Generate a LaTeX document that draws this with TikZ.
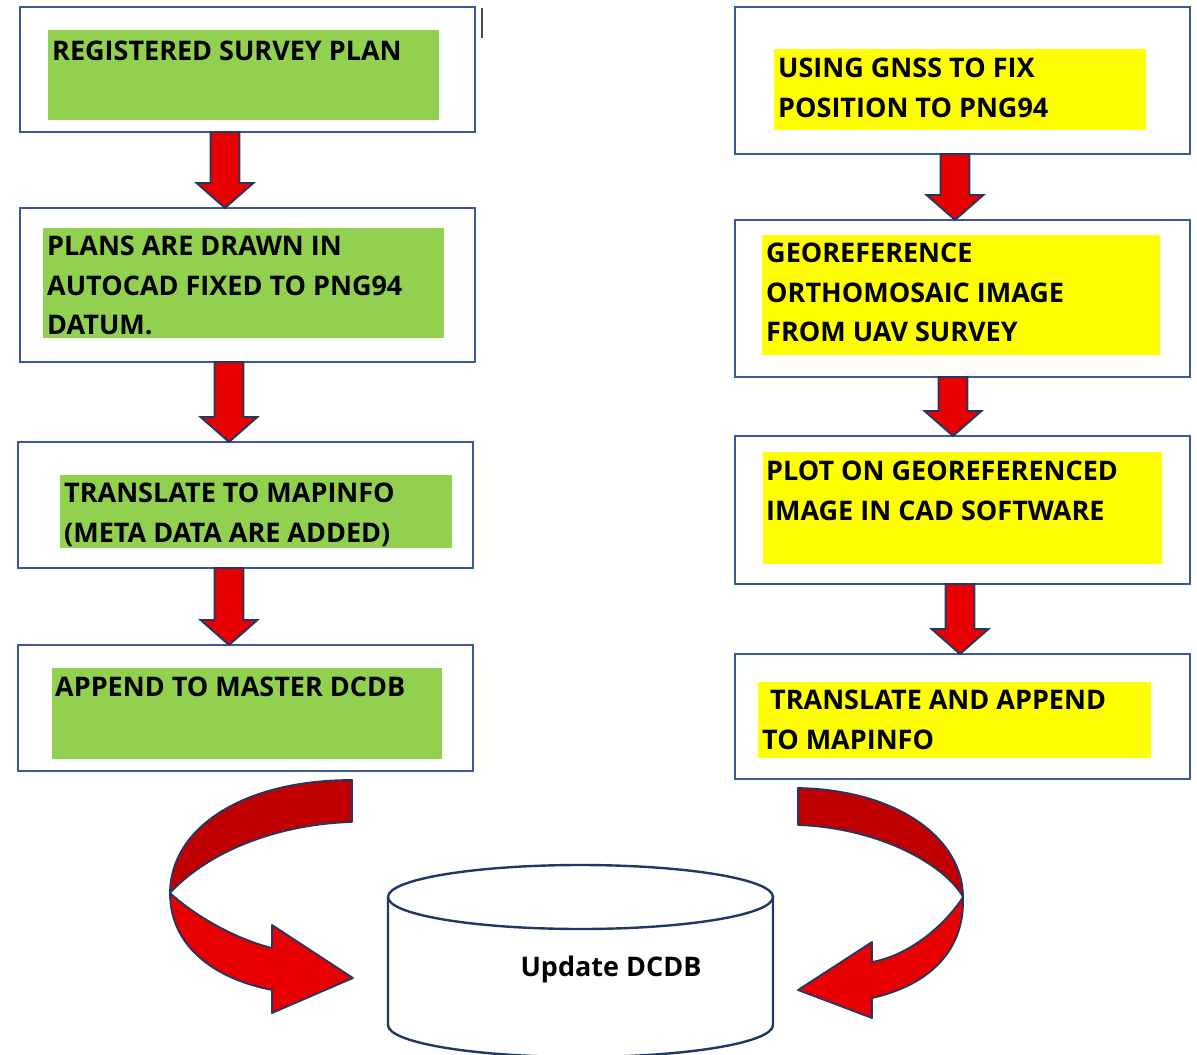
\documentclass[tikz,border=0pt]{standalone}
\usepackage{fontspec}
\setmainfont{Open Sans}
\usetikzlibrary{calc}
\definecolor{boxblue}{RGB}{59,89,152}
\definecolor{navyline}{RGB}{31,56,100}
\definecolor{planfill}{RGB}{146,208,80}
\definecolor{gnssfill}{RGB}{255,255,0}
\definecolor{arrowred}{RGB}{232,0,0}
\definecolor{arrowdark}{RGB}{192,0,0}
% fat down arrow from one box to the next
\newcommand{\blockarrow}[2]{%
    \draw [arrowbody] let \p1 = (#1), \p2 = (#2) in
        (\x1 - 14.5pt, \y1) -- (\x1 - 14.5pt, \y2 + 25pt) -- (\x1 - 28.5pt, \y2 + 25pt) -- (\x1, \y2)
        -- (\x1 + 28.5pt, \y2 + 25pt) -- (\x1 + 14.5pt, \y2 + 25pt) -- (\x1 + 14.5pt, \y1) -- cycle;}
\begin{document}
\begin{tikzpicture}[x = 1pt, y = -1pt,
        box/.style = {draw = boxblue, line width = 2.2, inner sep = 0, outer sep = 0, minimum width = 455},
        shade/.style = {inner sep = 0, outer sep = 0, anchor = north west},
        label/.style = {anchor = north west, inner sep = 0, align = left, font = \fontsize{27}{39.5}\selectfont\bfseries},
        arrowbody/.style = {draw = navyline, line width = 1.8, fill = arrowred, line join = miter},
        curvered/.style = {draw = navyline, line width = 1.8, fill = arrowred, line join = round},
        curvedark/.style = {draw = navyline, line width = 1.8, fill = arrowdark, line join = round},
        dbline/.style = {draw = navyline, line width = 2.4, fill = white}]
    \useasboundingbox (0, 0) rectangle (1197, 1055);
    \clip (0, 0) rectangle (1197, 1055);
    % left column
    \node [box, minimum height = 125] (l1) at (247.5, 69.5) {};
    \node [box, minimum height = 154] (l2) at (247.5, 285) {};
    \node [box, minimum height = 126] (l3) at (245.5, 505) {};
    \node [box, minimum height = 126] (l4) at (245.5, 708) {};
    \node [shade, fill = planfill, minimum width = 391, minimum height = 90] (l1f) at (48, 30) {};
    \node [shade, fill = planfill, minimum width = 401, minimum height = 110] (l2f) at (43, 228) {};
    \node [shade, fill = planfill, minimum width = 392, minimum height = 73] (l3f) at (60, 475) {};
    \node [shade, fill = planfill, minimum width = 390, minimum height = 91] (l4f) at (52, 668) {};
    \node [label] (l1t) at ([shift = {(4, 11)}] l1f.north west) {REGISTERED SURVEY PLAN};
    \node [label] (l2t) at ([shift = {(4, 8)}] l2f.north west) {PLANS ARE DRAWN IN\\AUTOCAD FIXED TO PNG94\\DATUM.};
    \node [label] (l3t) at ([shift = {(4, 8)}] l3f.north west) {TRANSLATE TO MAPINFO\\(META DATA ARE ADDED)};
    \node [label] (l4t) at ([shift = {(3, 9)}] l4f.north west) {APPEND TO MASTER DCDB};
    % right column
    \node [box, minimum height = 147] (r1) at (962.5, 80.5) {};
    \node [box, minimum height = 157] (r2) at (962.5, 298.5) {};
    \node [box, minimum height = 148] (r3) at (962.5, 510) {};
    \node [box, minimum height = 125] (r4) at (962.5, 716.5) {};
    \node [shade, fill = gnssfill, minimum width = 372, minimum height = 81] (r1f) at (774, 49) {};
    \node [shade, fill = gnssfill, minimum width = 398, minimum height = 120] (r2f) at (762, 235) {};
    \node [shade, fill = gnssfill, minimum width = 399, minimum height = 112] (r3f) at (763, 452) {};
    \node [shade, fill = gnssfill, minimum width = 393, minimum height = 76] (r4f) at (758, 682) {};
    \node [label] (r1t) at ([shift = {(4, 9)}] r1f.north west) {USING GNSS TO FIX\\POSITION TO PNG94};
    \node [label] (r2t) at ([shift = {(4, 8)}] r2f.north west) {GEOREFERENCE\\ORTHOMOSAIC IMAGE\\FROM UAV SURVEY};
    \node [label] (r3t) at ([shift = {(3, 9)}] r3f.north west) {PLOT ON GEOREFERENCED\\IMAGE IN CAD SOFTWARE};
    \node [label] (r4t) at ([shift = {(4, 8)}] r4f.north west) {\hspace{8pt}TRANSLATE AND APPEND\\TO MAPINFO};
    % down arrows
    \blockarrow{225,0 |- l1.south}{225,0 |- l2.north}
    \blockarrow{229,0 |- l2.south}{229,0 |- l3.north}
    \blockarrow{229,0 |- l3.south}{229,0 |- l4.north}
    \blockarrow{955,0 |- r1.south}{955,0 |- r2.north}
    \blockarrow{953,0 |- r2.south}{953,0 |- r3.north}
    \blockarrow{960,0 |- r3.south}{960,0 |- r4.north}
    % database
    \draw [dbline] (388, 897) -- (388, 1025) arc [start angle = 180, end angle = 0, x radius = 192.5, y radius = 32] -- (773, 897);
    \draw [dbline] (580.5, 897) ellipse [x radius = 192.5, y radius = 32];
    \node [font = \fontsize{27}{33}\selectfont\bfseries] (dcdb) at (611, 969) {Update DCDB};
    % curved arrows into the database
    \draw [curvedark] (352, 780) .. controls (240, 780) and (170, 830) .. (170, 893) .. controls (210, 850) and (280, 824) .. (352, 822) -- cycle;
    \draw [curvered] (170, 893) .. controls (200, 920) and (240, 940) .. (272, 948) -- (272, 925) -- (353, 978) -- (272, 1013) -- (272, 990) .. controls (220, 980) and (170, 950) .. (170, 893) -- cycle;
    \draw [curvedark] (798, 788) .. controls (900, 790) and (963, 840) .. (963, 897) .. controls (945, 865) and (880, 828) .. (798, 825) -- cycle;
    \draw [curvered] (963, 897) .. controls (945, 925) and (910, 955) .. (872, 962) -- (872, 942) -- (798, 990) -- (872, 1018) -- (872, 998) .. controls (930, 985) and (965, 950) .. (963, 897) -- cycle;
    \draw [line width = 1.5, black!70] (482, 8) -- (482, 38);
\end{tikzpicture}
\end{document}
